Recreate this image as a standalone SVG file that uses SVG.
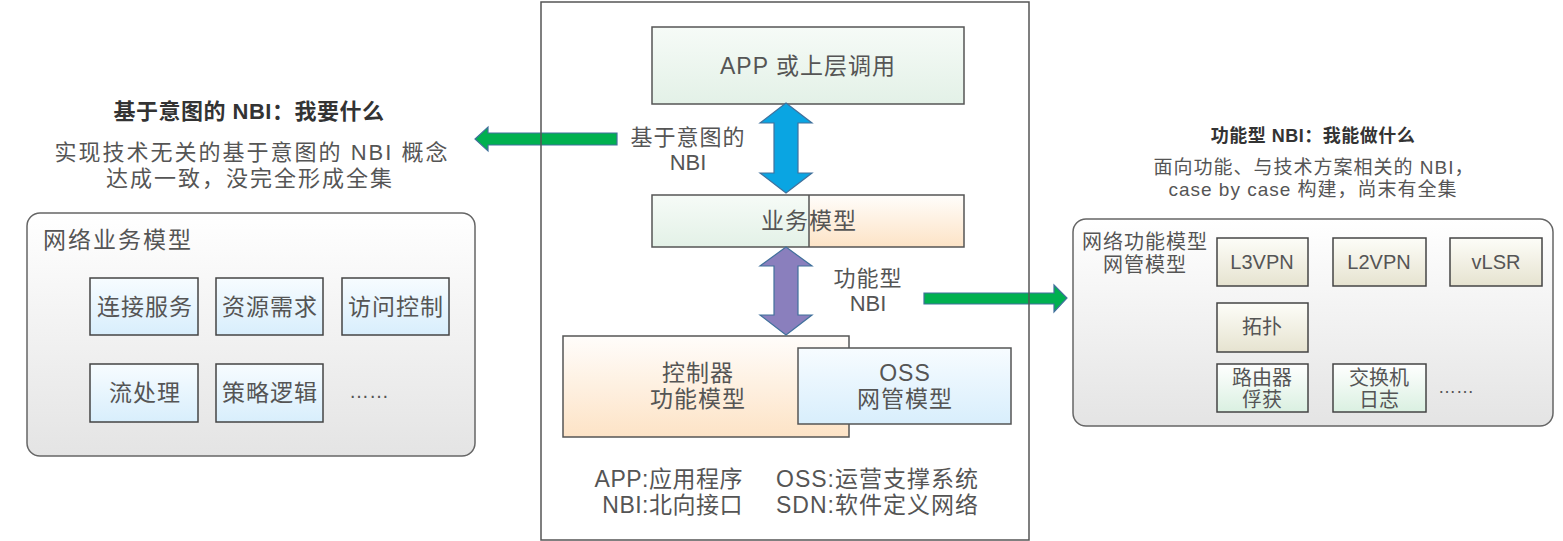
<svg xmlns="http://www.w3.org/2000/svg" width="1563" height="541" viewBox="0 0 1563 541">
<defs>
<linearGradient id="gGreen" x1="0" y1="0" x2="0" y2="1"><stop offset="0" stop-color="#f6fbf7"/><stop offset="1" stop-color="#e3f1e7"/></linearGradient>
<linearGradient id="gOrange" x1="0" y1="0" x2="0" y2="1"><stop offset="0" stop-color="#fffdfb"/><stop offset="1" stop-color="#fde3c6"/></linearGradient>
<linearGradient id="gBlue" x1="0" y1="0" x2="0" y2="1"><stop offset="0" stop-color="#f7fcff"/><stop offset="1" stop-color="#d8eefc"/></linearGradient>
<linearGradient id="gBeige" x1="0" y1="0" x2="0" y2="1"><stop offset="0" stop-color="#fdfdf8"/><stop offset="1" stop-color="#e6e3d0"/></linearGradient>
<linearGradient id="gMint" x1="0" y1="0" x2="0" y2="1"><stop offset="0" stop-color="#ffffff"/><stop offset="1" stop-color="#daf0e1"/></linearGradient>
<linearGradient id="gGray" x1="0" y1="0" x2="0" y2="1"><stop offset="0" stop-color="#ffffff"/><stop offset="1" stop-color="#e4e4e4"/></linearGradient>
</defs>
<style>
text{font-family:"Liberation Sans","Noto Sans CJK SC",sans-serif;fill:#555;}
.box{stroke:#555;stroke-width:1.5;}
.sb{stroke:#444;stroke-width:1.5;}
.cont{stroke:#666;stroke-width:1.5;fill:url(#gGray);}
.lbl{font-size:23px;letter-spacing:1px;text-anchor:middle;}
.sm{font-size:20px;text-anchor:middle;}
.title{font-weight:bold;fill:#333;text-anchor:middle;}
.desc{text-anchor:middle;}
.green{fill:#00b050;stroke:#41719c;stroke-width:1.2;}
.dbl{stroke:#41719c;stroke-width:1.2;}
</style>

<rect id="frameBg" x="541" y="2" width="488" height="538" fill="#fff"/>

<g id="leftHeader">
<text class="title" x="249" y="119" font-size="22" letter-spacing="0.5">基于意图的 NBI：我要什么</text>
<text class="desc" x="252" y="160" font-size="22" letter-spacing="2">实现技术无关的基于意图的 NBI 概念</text>
<text class="desc" x="250" y="186" font-size="22" letter-spacing="2">达成一致，没完全形成全集</text>
</g>

<g id="leftModel">
<rect class="cont" x="27" y="213" width="448" height="243" rx="13"/>
<text x="43" y="248" font-size="23" letter-spacing="2">网络业务模型</text>
</g>
<g id="n-lianjie"><rect class="sb" x="90" y="278" width="108" height="57" fill="url(#gBlue)"/><text class="lbl" x="145" y="315">连接服务</text></g>
<g id="n-ziyuan"><rect class="sb" x="216" y="278" width="107" height="57" fill="url(#gBlue)"/><text class="lbl" x="270" y="315">资源需求</text></g>
<g id="n-fangwen"><rect class="sb" x="342" y="278" width="107" height="57" fill="url(#gBlue)"/><text class="lbl" x="396" y="315">访问控制</text></g>
<g id="n-liu"><rect class="sb" x="90" y="364" width="108" height="58" fill="url(#gBlue)"/><text class="lbl" x="145" y="401">流处理</text></g>
<g id="n-celue"><rect class="sb" x="216" y="364" width="107" height="58" fill="url(#gBlue)"/><text class="lbl" x="270" y="401">策略逻辑</text></g>
<text x="369" y="398" font-size="20" text-anchor="middle">……</text>

<g id="n-app"><rect class="box" x="652" y="27" width="312" height="77" fill="url(#gGreen)"/><text class="lbl" x="808" y="74">APP 或上层调用</text></g>
<g id="n-yewu">
<rect x="652" y="195" width="157" height="52" fill="url(#gGreen)"/>
<rect x="809" y="195" width="155" height="52" fill="url(#gOrange)"/>
<rect class="box" x="652" y="195" width="312" height="52" fill="none"/>
<line x1="809" y1="195" x2="809" y2="247" stroke="#555" stroke-width="1.5"/>
<text class="lbl" x="809" y="229">业务模型</text>
</g>
<g id="n-ctrl"><rect class="box" x="563" y="336" width="286" height="101" fill="url(#gOrange)"/><text class="lbl" x="698" y="381">控制器</text><text class="lbl" x="698" y="407">功能模型</text></g>
<g id="n-oss"><rect class="box" x="798" y="348" width="213" height="76" fill="url(#gBlue)"/><text class="lbl" x="905" y="381">OSS</text><text class="lbl" x="905" y="407">网管模型</text></g>

<g id="labels">
<text x="688" y="145" font-size="22" text-anchor="middle" letter-spacing="1">基于意图的</text>
<text x="688" y="170" font-size="22" text-anchor="middle">NBI</text>
<text x="868" y="286" font-size="22" text-anchor="middle" letter-spacing="1">功能型</text>
<text x="868" y="311" font-size="22" text-anchor="middle">NBI</text>
</g>

<g id="legend">
<text x="743" y="487" font-size="23" text-anchor="end" letter-spacing="0.5">APP:应用程序</text>
<text x="743" y="513" font-size="23" text-anchor="end" letter-spacing="0.5">NBI:北向接口</text>
<text x="776" y="487" font-size="23" letter-spacing="1">OSS:运营支撑系统</text>
<text x="776" y="513" font-size="23" letter-spacing="1">SDN:软件定义网络</text>
</g>

<g id="connectors">
<polygon class="green" points="617,133 488,133 488,127 475,139 488,151 488,145 617,145"/>
<polygon class="green" points="924,293 1054,293 1054,285 1067,298 1054,312 1054,304 924,304"/>
<polygon class="dbl" fill="#0aa5e2" points="786,103 812,123 798,123 798,173 812,173 786,193 760,173 774,173 774,123 760,123"/>
<polygon class="dbl" fill="#8a7fbd" points="786,247 812,266 798,266 798,315 812,315 786,335 760,315 774,315 774,266 760,266"/>
</g>

<rect id="frame" x="541" y="2" width="488" height="538" fill="none" stroke="#555" stroke-width="1.5"/>

<g id="rightHeader">
<text class="title" x="1313" y="142" font-size="18" letter-spacing="0.5">功能型 NBI：我能做什么</text>
<text class="desc" x="1314" y="174" font-size="19" letter-spacing="1">面向功能、与技术方案相关的 NBI，</text>
<text class="desc" x="1313" y="196" font-size="19" letter-spacing="1">case by case 构建，尚末有全集</text>
</g>

<g id="rightModel">
<rect class="cont" x="1073" y="219" width="480" height="207" rx="13"/>
<text x="1145" y="249" font-size="20" text-anchor="middle" letter-spacing="1">网络功能模型</text>
<text x="1145" y="272" font-size="20" text-anchor="middle" letter-spacing="1">网管模型</text>
</g>
<g id="n-l3vpn"><rect class="sb" x="1217" y="238" width="91" height="48" fill="url(#gBeige)"/><text class="sm" x="1262" y="269">L3VPN</text></g>
<g id="n-l2vpn"><rect class="sb" x="1333" y="238" width="93" height="48" fill="url(#gBeige)"/><text class="sm" x="1379" y="269">L2VPN</text></g>
<g id="n-vlsr"><rect class="sb" x="1450" y="238" width="92" height="48" fill="url(#gBeige)"/><text class="sm" x="1496" y="269">vLSR</text></g>
<g id="n-tuopu"><rect class="sb" x="1217" y="303" width="91" height="49" fill="url(#gBeige)"/><text class="sm" x="1262" y="334">拓扑</text></g>
<g id="n-luyou"><rect class="sb" x="1217" y="364" width="91" height="48" fill="url(#gMint)"/><text class="sm" x="1262" y="385">路由器</text><text class="sm" x="1262" y="407">俘获</text></g>
<g id="n-jiaohuan"><rect class="sb" x="1333" y="364" width="93" height="48" fill="url(#gMint)"/><text class="sm" x="1379" y="385">交换机</text><text class="sm" x="1379" y="407">日志</text></g>
<text x="1456" y="393" font-size="18" text-anchor="middle">……</text>
</svg>
